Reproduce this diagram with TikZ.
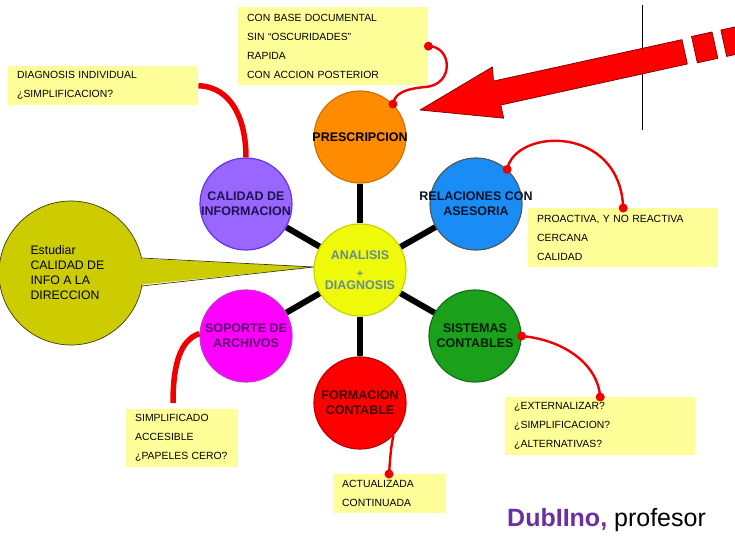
\documentclass[tikz,border=0pt]{standalone}
\usepackage{fontspec}
\setmainfont{Liberation Sans}
\usetikzlibrary{backgrounds}
\definecolor{cPre}{RGB}{255,140,0}\definecolor{cPreD}{RGB}{205,115,0}
\definecolor{cCal}{RGB}{153,102,255}\definecolor{cCalD}{RGB}{100,50,235}
\definecolor{cRel}{RGB}{25,140,245}\definecolor{cRelD}{RGB}{80,85,95}
\definecolor{cCen}{RGB}{238,250,10}\definecolor{cCenD}{RGB}{200,210,0}
\definecolor{cCenT}{RGB}{100,140,150}
\definecolor{cSop}{RGB}{255,0,255}\definecolor{cSopD}{RGB}{200,50,200}
\definecolor{cFor}{RGB}{255,0,0}\definecolor{cForD}{RGB}{190,0,0}
\definecolor{cSis}{RGB}{26,160,26}\definecolor{cSisD}{RGB}{20,110,20}
\definecolor{cOlive}{RGB}{204,204,0}\definecolor{cOliveD}{RGB}{60,60,0}
\definecolor{cNote}{RGB}{255,255,153}
\definecolor{cRed}{RGB}{238,0,0}
\definecolor{cArrowD}{RGB}{120,0,0}
\definecolor{cPurp}{RGB}{107,47,160}
\begin{document}
\begin{tikzpicture}[x=1pt,y=-1pt,
  circ/.style={circle, minimum size=92pt, inner sep=-12pt, line width=1.2pt, align=center,
    font=\fontsize{12.5}{15}\selectfont\bfseries},
  note/.style={fill=cNote, anchor=north west, inner xsep=9pt, inner ysep=0pt, align=left,
    font=\fontsize{10.4}{19}\selectfont},
  spoke/.style={draw=black, line width=6pt},
  thinred/.style={draw=cRed, line width=2.4pt},
  thickred/.style={draw=cRed, line width=5.5pt},
  reddot/.style={circle, fill=cRed, inner sep=0pt, minimum size=9pt},
  arrowpart/.style={fill=red, draw=cArrowD, line width=0.7pt, line join=round}]
\useasboundingbox (0,0) rectangle (735,538);

% speech bubble
\node[circle, minimum size=144pt, inner sep=0pt, fill=cOlive, draw=cOliveD, line width=0.7pt] (bub) at (71,273) {};
\coordinate (tip) at (314,267);
\fill[cOlive] (128,258) -- (tip) -- (128,286) -- cycle;
\draw[cOliveD, line width=0.7pt] (141.4,258) -- (tip) -- (141.8,286);
\node[anchor=west, align=left, font=\fontsize{12.3}{15}\selectfont] (bubt) at (27,272.5)
  {Estudiar\\CALIDAD DE\\INFO A LA\\DIRECCION};

% circles
\node[circ, fill=cCen, draw=cCenD, text=cCenT] (cen) at (360,270)
  {ANALISIS\\[3pt]{\fontsize{11}{11}\selectfont +}\\[-3pt]DIAGNOSIS};
\node[circ, fill=cPre, draw=cPreD] (pre) at (360,137) {PRESCRIPCION};
\node[circ, fill=cCal, draw=cCalD, text={rgb,255:red,30;green,20;blue,80}] (cal) at (246,204) {CALIDAD DE\\INFORMACION};
\node[circ, fill=cRel, draw=cRelD, text={rgb,255:red,10;green,20;blue,40}] (rel) at (476,204) {RELACIONES CON\\ASESORIA};
\node[circ, fill=cSop, draw=cSopD, text={rgb,255:red,90;green,0;blue,110}] (sop) at (246,336) {SOPORTE DE\\ARCHIVOS};
\node[circ, fill=cFor, draw=cForD, text={rgb,255:red,60;green,0;blue,0}] (for) at (360,403) {FORMACION\\CONTABLE};
\node[circ, fill=cSis, draw=cSisD, text={rgb,255:red,0;green,30;blue,0}] (sis) at (475,336) {SISTEMAS\\CONTABLES};

\begin{pgfonlayer}{background}
  \foreach \n in {pre,cal,rel,sop,for,sis} \draw[spoke] (cen) -- (\n);
\end{pgfonlayer}

% notes
\node[note, text width=172pt, minimum height=78pt] (n1) at (238,7)
  {CON BASE DOCUMENTAL\\SIN “OSCURIDADES”\\RAPIDA\\CON ACCION POSTERIOR};
\node[note, text width=172pt, minimum height=39pt] (n2) at (8,66)
  {DIAGNOSIS INDIVIDUAL\\¿SIMPLIFICACION?};
\node[note, text width=172pt, minimum height=59pt] (n3) at (528,208)
  {PROACTIVA, Y NO REACTIVA\\CERCANA\\CALIDAD};
\node[note, text width=94pt, minimum height=58pt] (n4) at (126,409)
  {SIMPLIFICADO\\ACCESIBLE\\¿PAPELES CERO?};
\node[note, text width=95pt, minimum height=39pt] (n5) at (333,474)
  {ACTUALIZADA\\CONTINUADA};
\node[note, text width=172pt, minimum height=58pt] (n6) at (505,397)
  {¿EXTERNALIZAR?\\¿SIMPLIFICACION?\\¿ALTERNATIVAS?};

% red connectors
\draw[thinred] (n1.east) .. controls (452,46) and (455,85) .. (425,87)
  .. controls (405,89) and (395,93) .. (pre.45);
\node[reddot] (d1a) at (n1.east) {};
\node[reddot] (d1b) at (pre.45) {};

\draw[thickred] (n2.east) .. controls (232,87) and (246,120) .. (cal.north);

\draw[thinred] (rel.48) .. controls (515,128) and (620,124) .. (n3.north);
\node[reddot] (d3a) at (rel.48) {};
\node[reddot] (d3b) at (n3.north) {};

\coordinate (e4) at (173,403);
\draw[thickred] (sop.177) .. controls (180,340) and (173,365) .. (e4);

\coordinate (e5) at (389,474);
\draw[thinred] (for.-44) .. controls (391,445) and (390,460) .. (e5);
\node[reddot] (d5) at (e5) {};

\draw[thinred] (sis.east) .. controls (565,340) and (598,365) .. (n6.north);
\node[reddot] (d6a) at (sis.east) {};
\node[reddot] (d6b) at (n6.north) {};

% vertical line and big arrow
\draw[black, line width=0.8pt] (642,5) -- (642,130);
\begin{scope}[shift={(420,110)}, rotate=12.4]
  \path[arrowpart]
    (0,0) -- (80,-26.5) -- (78,-12.5) -- (271,-12.5) -- (271,12.5) -- (80,12.5) -- (80,26) -- cycle;
  \path[arrowpart] (281,-13.5) rectangle (302,13.5);
  \path[arrowpart] (311,-13.5) rectangle (345,13.5);
\end{scope}

% signature
\node[anchor=base west, inner sep=0pt, font=\fontsize{25}{29}\selectfont] (sig) at (507,526.5)
  {\textcolor{cPurp}{\bfseries DubIIno,} profesor};
\end{tikzpicture}
\end{document}
